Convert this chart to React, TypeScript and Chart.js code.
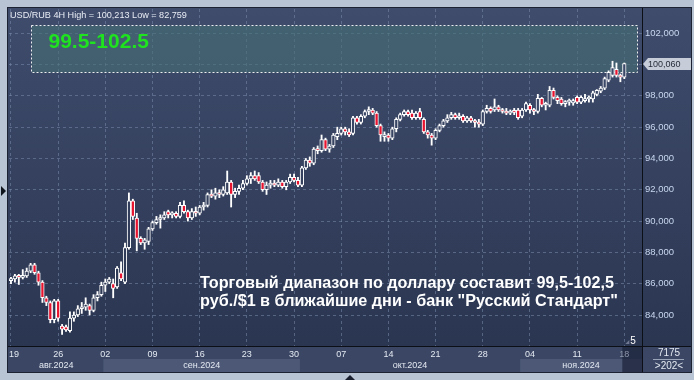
import React, { useEffect, useRef } from 'react';
import { Chart, registerables } from 'chart.js';

Chart.register(...registerables);

// ---- data (4H candles, ~12 slots per week starting Mon 19 Aug 2024) ----
const openP = [
  86.2, 86.3, 86.5, 86.4, 86.5, 86.8, 87.2, 86.7, 86.1, 85.1, 84.8, 83.7,
  84.9, 83.3, 83.25, 83.0, 83.8, 84.0, 84.4, 84.5, 84.6, 84.3, 85.1, 85.3,
  85.9, 86.1, 86.0, 85.8, 86.7, 86.1, 88.3, 91.3, 90.2, 88.9, 88.6, 88.7,
  89.5, 89.9, 90.1, 90.2, 90.6, 90.4, 90.5, 90.3, 91.0, 90.6, 90.2, 90.6,
  90.5, 90.9, 91.0, 91.7, 91.6, 91.8, 91.7, 91.8, 92.5, 91.7, 91.9, 92.1,
  92.4, 92.7, 92.9, 92.9, 92.5, 92.0, 92.3, 92.4, 92.3, 92.5, 92.2, 92.5,
  92.8, 92.6, 92.3, 93.4, 93.9, 93.7, 94.6, 94.5, 95.2, 94.6, 94.8, 95.4,
  95.6, 95.9, 95.7, 95.6, 96.6, 96.3, 96.7, 97.0, 97.1, 96.9, 96.1, 95.4,
  95.5, 95.3, 95.9, 96.5, 96.8, 97.0, 96.9, 96.6, 97.0, 96.5, 95.7, 95.5,
  95.3, 95.8, 96.1, 96.4, 96.6, 96.8, 96.6, 96.7, 96.4, 96.6, 96.4, 96.3,
  96.2, 97.0, 97.2, 97.1, 97.3, 97.1, 97.0, 96.9, 97.0, 97.1, 96.7, 97.1,
  97.4, 97.1, 97.0, 97.85, 97.4, 97.4, 98.35, 97.9, 97.8, 97.5, 97.6, 97.55,
  97.9, 97.6, 97.7, 97.8, 97.8, 98.1, 98.3, 98.5, 99.0, 99.3, 99.7, 99.3,
  99.2,
];
const highP = [
  86.4, 86.6, 86.6, 86.9, 87.0, 87.3, 87.3, 86.8, 86.2, 85.2, 84.9, 85.0,
  85.0, 83.4, 83.35, 84.2, 84.2, 84.6, 84.8, 85.1, 84.7, 85.3, 85.5, 86.1,
  86.3, 86.4, 86.3, 87.1, 87.4, 88.6, 91.8, 91.4, 90.5, 89.0, 88.9, 89.6,
  90.0, 90.3, 90.4, 90.6, 90.7, 90.6, 90.6, 91.2, 91.3, 90.7, 90.8, 90.9,
  91.0, 91.2, 91.8, 92.0, 92.1, 92.0, 92.2, 93.2, 92.6, 92.1, 92.3, 92.6,
  92.9, 93.1, 93.2, 93.1, 92.6, 92.5, 92.6, 92.6, 92.7, 92.6, 92.6, 93.0,
  93.0, 92.8, 93.5, 94.0, 94.1, 94.7, 94.8, 95.5, 95.3, 94.9, 95.6, 96.0,
  96.0, 96.0, 95.9, 96.7, 96.7, 96.8, 97.1, 97.3, 97.2, 97.0, 96.2, 95.7,
  95.6, 96.0, 96.6, 96.9, 97.1, 97.1, 97.1, 97.0, 97.2, 96.6, 95.8, 95.6,
  95.9, 96.2, 96.5, 96.8, 96.95, 96.9, 96.9, 96.8, 96.7, 96.7, 96.5, 96.5,
  97.1, 97.4, 97.3, 97.8, 97.4, 97.2, 97.2, 97.1, 97.2, 97.2, 97.2, 97.6,
  97.5, 97.2, 98.1, 97.9, 97.6, 98.6, 98.5, 98.0, 97.9, 97.7, 97.8, 97.8,
  98.0, 98.0, 98.1, 98.0, 98.3, 98.4, 98.6, 99.2, 99.6, 100.213, 100.1, 99.4,
  100.1,
];
const lowP = [
  86.0, 86.1, 85.95, 86.3, 86.4, 86.7, 86.6, 85.9, 84.8, 84.6, 83.5, 83.5,
  83.6, 82.759, 82.95, 82.9, 83.6, 83.9, 84.1, 84.3, 84.0, 84.2, 84.9, 85.2,
  85.5, 86.0, 85.1, 85.7, 86.2, 86.0, 88.2, 90.1, 88.1, 88.5, 88.2, 88.5,
  89.4, 89.8, 89.55, 90.1, 90.2, 90.2, 90.2, 90.2, 90.5, 90.0, 90.1, 90.3,
  90.4, 90.7, 90.9, 91.5, 91.4, 91.5, 91.6, 91.7, 90.9, 91.5, 91.7, 92.0,
  92.3, 92.4, 92.6, 92.4, 91.9, 91.7, 92.1, 92.2, 92.2, 92.1, 92.0, 92.4,
  92.5, 92.2, 92.2, 93.3, 93.5, 93.6, 94.3, 94.4, 94.5, 94.4, 94.7, 95.2,
  95.5, 95.5, 95.4, 95.5, 96.2, 96.2, 96.6, 96.8, 96.8, 96.0, 95.1, 95.1,
  95.1, 95.2, 95.7, 96.4, 96.7, 96.7, 96.5, 96.5, 96.5, 95.6, 95.3, 94.85,
  95.2, 95.7, 96.0, 96.3, 96.5, 96.5, 96.5, 96.3, 96.3, 96.3, 96.0, 96.0,
  96.1, 96.9, 96.9, 97.0, 97.0, 96.9, 96.8, 96.8, 96.8, 96.5, 96.6, 97.0,
  96.9, 96.8, 96.9, 97.3, 97.1, 97.3, 97.8, 97.5, 97.4, 97.3, 97.4, 97.4,
  97.5, 97.5, 97.6, 97.6, 97.6, 98.0, 98.2, 98.4, 98.9, 99.2, 99.2, 98.9,
  99.1,
];
const closeP = [
  86.3, 86.5, 86.4, 86.5, 86.8, 87.2, 86.7, 86.1, 85.1, 84.8, 83.7, 84.9,
  83.8, 83.1, 83.05, 83.8, 84.0, 84.4, 84.5, 84.7, 84.3, 85.1, 85.3, 85.9,
  86.1, 86.3, 85.7, 87.0, 86.3, 88.3, 91.3, 90.3, 88.9, 88.6, 88.8, 89.5,
  89.9, 90.1, 90.2, 90.4, 90.4, 90.5, 90.3, 91.0, 90.6, 90.2, 90.6, 90.5,
  90.9, 91.0, 91.7, 91.6, 91.8, 91.7, 92.0, 92.5, 91.7, 91.9, 92.1, 92.4,
  92.7, 92.9, 92.7, 92.5, 92.0, 92.3, 92.4, 92.3, 92.5, 92.2, 92.5, 92.8,
  92.6, 92.3, 93.4, 93.9, 93.7, 94.6, 94.5, 95.2, 94.6, 94.8, 95.5, 95.6,
  95.9, 95.7, 95.5, 96.6, 96.3, 96.7, 97.0, 97.1, 96.9, 96.1, 95.5, 95.5,
  95.3, 95.9, 96.5, 96.8, 97.0, 96.8, 96.6, 96.9, 96.6, 95.7, 95.5, 95.3,
  95.8, 96.1, 96.4, 96.6, 96.8, 96.6, 96.7, 96.4, 96.6, 96.4, 96.3, 96.2,
  97.0, 97.2, 97.0, 97.3, 97.1, 97.0, 96.9, 97.0, 96.95, 96.6, 97.1, 97.5,
  97.1, 97.0, 97.85, 97.4, 97.45, 98.35, 97.9, 97.7, 97.5, 97.6, 97.65, 97.7,
  97.6, 97.9, 97.8, 97.9, 98.2, 98.35, 98.5, 99.1, 99.5, 99.8, 99.3, 99.2,
  100.06,
];

const priceTicks = [84, 86, 88, 90, 92, 94, 96, 98, 100, 102];
const dayLabels = ['19', '26', '02', '09', '16', '23', '30', '07', '14', '21', '28', '04', '11', '18'];
const monthLabels = ['авг.2024', 'сен.2024', 'окт.2024', 'ноя.2024'];
const monthStartIdx = [0, 24, 74, 130];
const candlesPerWeek = 12;
const slotCount = 161;
const yMin = 82.02;
const yMax = 103.55;
const rangeLow = 99.5;
const rangeHigh = 102.5;
const rangeStartIdx = 5;
const rangeText = '99.5-102.5';
const noteLines = [
  'Торговый диапазон по доллару составит 99,5-102,5',
  'руб./$1 в ближайшие дни - банк "Русский Стандарт"',
];
const symbolText = 'USD/RUB 4H';
const footerTop = '7175';
const footerBottom = '>202<';
const barsNote = '5';

// ---- styles ----
const FONT = "'Liberation Sans', Arial, sans-serif";
const BG_TOP = '#3f4c6c';
const BG_BOTTOM = '#29344f';
const RED = '#e8142f';
const GRID = 'rgba(120,138,172,0.55)';
const AXIS_TXT = '#c9d7ef';

const fmt = (v: number) => v.toFixed(3).replace('.', ',');

function panelGradient(chart: any) {
  if (!chart.$panelBg) {
    const g = chart.ctx.createLinearGradient(0, 0, 0, chart.height);
    g.addColorStop(0, BG_TOP);
    g.addColorStop(1, BG_BOTTOM);
    chart.$panelBg = g;
  }
  return chart.$panelBg;
}

const decor = {
  id: 'decor',
  beforeDraw(chart: any) {
    const { ctx, width, height } = chart;
    ctx.save();
    ctx.fillStyle = panelGradient(chart);
    ctx.fillRect(0, 0, width, height);
    ctx.restore();
  },
  beforeDatasetsDraw(chart: any) {
    const { ctx, chartArea: ca } = chart;
    const xs = chart.scales.x;
    const ys = chart.scales.y;
    const top = Math.round(ys.getPixelForValue(rangeHigh)) + 0.5;
    const bot = Math.round(ys.getPixelForValue(rangeLow)) + 0.5;
    const left = Math.round(xs.getPixelForValue(rangeStartIdx)) + 0.5;
    const right = ca.right - 4.5;
    ctx.save();
    ctx.fillStyle = 'rgba(70,112,116,0.6)';
    ctx.fillRect(left, top, right - left, bot - top);
    ctx.strokeStyle = 'rgba(255,255,255,0.9)';
    ctx.lineWidth = 1;
    ctx.setLineDash([2, 2]);
    ctx.strokeRect(left, top, right - left, bot - top);
    ctx.setLineDash([]);
    ctx.fillStyle = '#1fe31f';
    ctx.font = `bold 21px ${FONT}`;
    ctx.textBaseline = 'alphabetic';
    ctx.textAlign = 'left';
    ctx.fillText(rangeText, left + 17, top + 22);
    ctx.restore();
  },
  afterDraw(chart: any) {
    const { ctx, chartArea: ca, width, height } = chart;
    const xs = chart.scales.x;
    const ys = chart.scales.y;
    ctx.save();

    // title
    const hi = Math.max(...highP);
    const lo = Math.min(...lowP);
    const title = `${symbolText} High = ${fmt(hi)} Low = ${fmt(lo)}`;
    ctx.font = `10px ${FONT}`;
    const tw = ctx.measureText(title).width;
    const ts = Math.max(8, Math.min(11, (10 * 177) / tw));
    ctx.font = `${ts.toFixed(2)}px ${FONT}`;
    ctx.fillStyle = '#e8ecf4';
    ctx.textAlign = 'left';
    ctx.textBaseline = 'alphabetic';
    ctx.fillText(title, 2, 10);

    // note text
    ctx.font = `bold 16px ${FONT}`;
    const nw = ctx.measureText(noteLines[0]).width;
    const ns = Math.max(14, Math.min(18, (16 * 414) / nw));
    ctx.font = `bold ${ns.toFixed(2)}px ${FONT}`;
    ctx.fillStyle = '#ffffff';
    ctx.fillText(noteLines[0], 192, 280);
    ctx.fillText(noteLines[1], 192, 298);

    // bottom axis
    const axTop = ca.bottom;
    ctx.fillStyle = '#3a4663';
    ctx.fillRect(0, axTop, width, height - axTop);
    const half = (xs.getPixelForValue(1) - xs.getPixelForValue(0)) / 2;
    ctx.font = `9px ${FONT}`;
    ctx.textBaseline = 'alphabetic';
    monthStartIdx.forEach((s, m) => {
      const x0 = m === 0 ? ca.left : xs.getPixelForValue(s) - half;
      const x1 = m < monthStartIdx.length - 1 ? xs.getPixelForValue(monthStartIdx[m + 1]) - half : ca.right;
      if (m % 2 === 1) {
        ctx.fillStyle = '#4c5876';
        ctx.fillRect(x0, axTop + 13, x1 - x0, height - axTop - 13);
      }
      ctx.fillStyle = '#e4e9f2';
      ctx.textAlign = 'center';
      ctx.fillText(monthLabels[m], (x0 + x1) / 2, axTop + 22);
    });
    // current-region dark box
    const lastX = xs.getPixelForValue(closeP.length - 1);
    ctx.fillStyle = 'rgba(30,38,60,0.75)';
    ctx.fillRect(lastX - 2, axTop, ca.right - lastX + 2, height - axTop);
    dayLabels.forEach((d, k) => {
      const x = xs.getPixelForValue(k * candlesPerWeek);
      const w = ctx.measureText(d).width;
      const isLast = k === dayLabels.length - 1;
      ctx.fillStyle = isLast ? '#8c95a9' : '#e4e9f2';
      ctx.textAlign = 'left';
      const lx = Math.max(ca.left, x - w / 2);
      ctx.fillText(d, lx, axTop + 11);
    });

    // separators
    ctx.fillStyle = '#0c0f16';
    ctx.fillRect(ca.right, 0, 1, height);
    ctx.fillRect(0, axTop, width, 1);

    // bottom-right cell
    const cx = (ca.right + 1 + width) / 2;
    ctx.fillStyle = '#e4e9f2';
    ctx.textAlign = 'center';
    ctx.font = `10px ${FONT}`;
    ctx.fillText(footerTop, cx + 2, axTop + 10);
    ctx.fillStyle = '#9aa4b8';
    ctx.fillRect(ca.right + 11, axTop + 13, width - ca.right - 18, 1);
    ctx.fillStyle = '#e4e9f2';
    ctx.fillText(footerBottom, cx + 2, axTop + 23);

    // bars count note
    ctx.fillStyle = '#6f7890';
    ctx.beginPath();
    ctx.moveTo(lastX + 1, axTop - 2);
    ctx.lineTo(lastX + 5, axTop - 6);
    ctx.lineTo(lastX + 5, axTop - 2);
    ctx.closePath();
    ctx.fill();
    ctx.fillStyle = '#ffffff';
    ctx.textAlign = 'left';
    ctx.font = `10px ${FONT}`;
    ctx.fillText(barsNote, lastX + 6, axTop - 2);

    // current price label
    const last = closeP[closeP.length - 1];
    const py = Math.round(ys.getPixelForValue(last));
    const ax = ca.right + 1;
    ctx.fillStyle = '#c6cdd8';
    ctx.beginPath();
    ctx.moveTo(ax, py);
    ctx.lineTo(ax + 5, py - 6);
    ctx.lineTo(width, py - 6);
    ctx.lineTo(width, py + 6);
    ctx.lineTo(ax + 5, py + 6);
    ctx.closePath();
    ctx.fill();
    ctx.fillStyle = '#262c3a';
    ctx.textBaseline = 'middle';
    ctx.textAlign = 'left';
    ctx.font = `9px ${FONT}`;
    ctx.fillText(fmt(last), ax + 5, py + 0.5);

    ctx.restore();
  },
};

export default function App() {
  const ref = useRef<HTMLCanvasElement | null>(null);

  useEffect(() => {
    if (!ref.current) return;
    const labels = Array.from({ length: slotCount }, (_, i) => String(i));
    const chart = new Chart(ref.current, {
      type: 'bar',
      data: {
        labels,
        datasets: [
          {
            label: 'body',
            data: openP.map((o, i) => [o, closeP[i]]) as any,
            backgroundColor: (c: any) => {
              const i = c.dataIndex;
              if (i == null) return RED;
              return closeP[i] < openP[i] ? RED : panelGradient(c.chart);
            },
            borderColor: '#ffffff',
            borderWidth: 1,
            borderSkipped: false,
            barThickness: 3.6,
            minBarLength: 2,
            grouped: false,
            order: 0,
          } as any,
          {
            label: 'wick',
            data: lowP.map((l, i) => [l, highP[i]]) as any,
            backgroundColor: '#ffffff',
            borderWidth: 0,
            barThickness: 1.2,
            grouped: false,
            order: 1,
          } as any,
        ],
      },
      options: {
        animation: false,
        responsive: false,
        devicePixelRatio: 1,
        events: [],
        layout: { padding: { left: 1, top: 1, right: 0, bottom: 26 } },
        plugins: { legend: { display: false }, tooltip: { enabled: false }, title: { display: false } },
        scales: {
          x: {
            type: 'category',
            offset: true,
            grid: {
              offset: false,
              drawTicks: false,
              color: (c: any) => (c.index % candlesPerWeek === 0 ? GRID : 'rgba(0,0,0,0)'),
            },
            border: { display: false, dash: [3, 3] },
            ticks: { display: false, autoSkip: false },
          },
          y: {
            position: 'right',
            min: yMin,
            max: yMax,
            afterBuildTicks: (s: any) => {
              s.ticks = priceTicks.map((v) => ({ value: v }));
            },
            afterFit: (s: any) => {
              s.width = 49;
              s.paddingTop = 0;
              s.paddingBottom = 0;
            },
            grid: { color: GRID, drawTicks: false },
            border: { display: false, dash: [3, 3] },
            ticks: {
              color: AXIS_TXT,
              padding: 3,
              font: { family: FONT, size: 9.5 },
              callback: (v: any) => fmt(Number(v)),
            },
          },
        },
      } as any,
      plugins: [decor],
    });
    return () => chart.destroy();
  }, []);

  return (
    <div style={{ position: 'fixed', left: 0, top: 0, width: 694, height: 380, background: '#b8c3d3', overflow: 'hidden' }}>
      <div style={{ position: 'absolute', left: 7, top: 7, width: 685, height: 366, background: '#1c2232' }} />
      <canvas ref={ref} width={683} height={364} style={{ position: 'absolute', left: 8, top: 8, width: 683, height: 364 }} />
      <div
        style={{
          position: 'absolute', left: 1, top: 186, width: 0, height: 0,
          borderTop: '5px solid transparent', borderBottom: '5px solid transparent', borderLeft: '5px solid #10141c',
        }}
      />
      <div
        style={{
          position: 'absolute', left: 345, top: 375, width: 0, height: 0,
          borderLeft: '5px solid transparent', borderRight: '5px solid transparent', borderBottom: '5px solid #1a2030',
        }}
      />
    </div>
  );
}
